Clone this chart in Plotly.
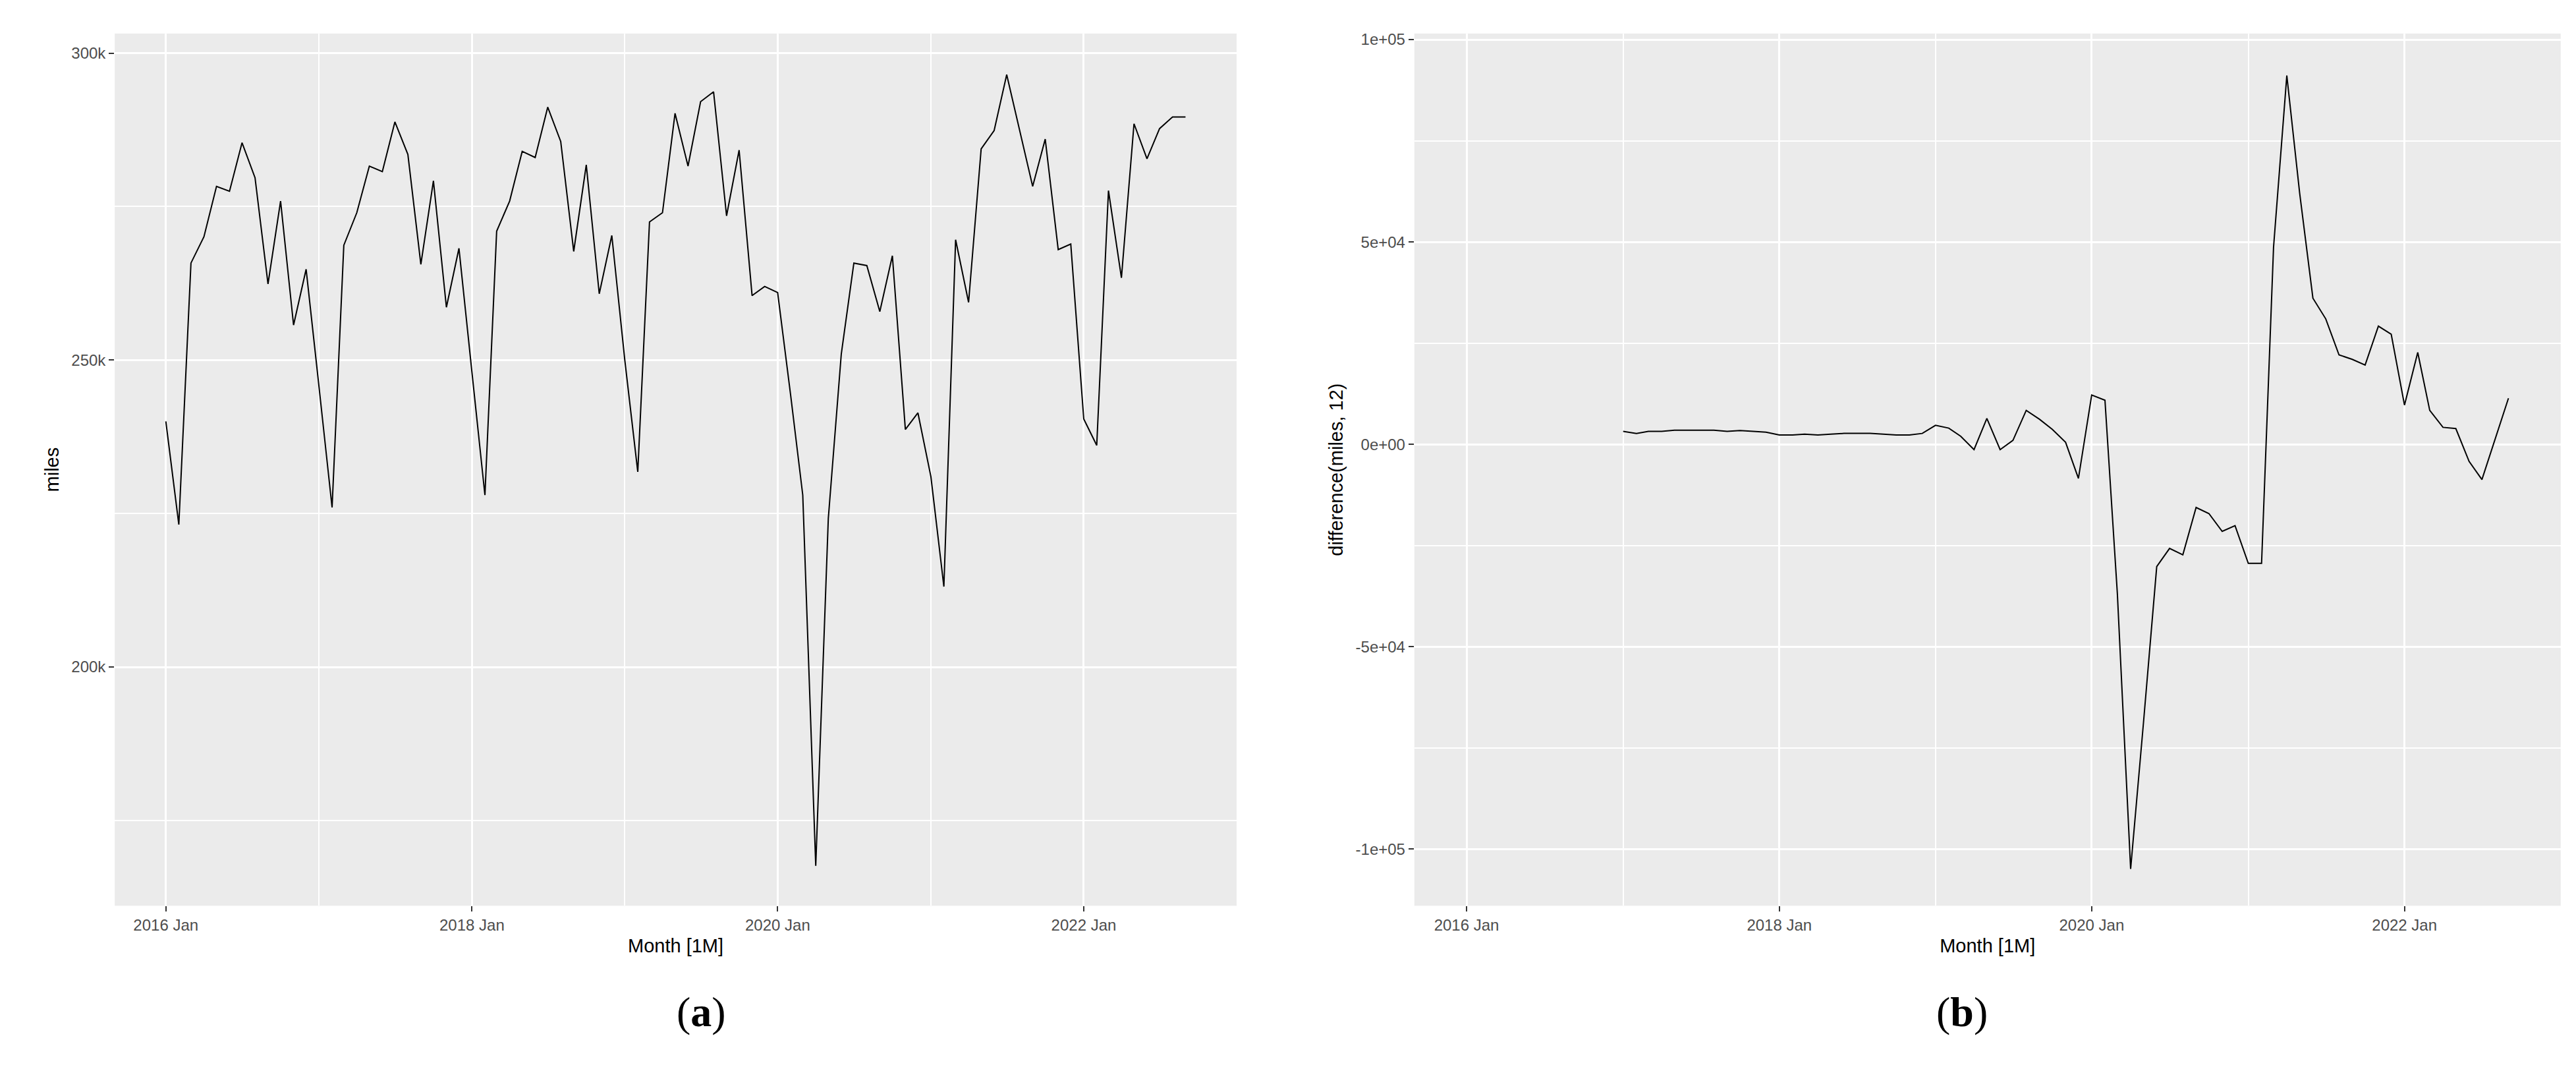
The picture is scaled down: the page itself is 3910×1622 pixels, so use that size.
import pandas as pd
import plotly.graph_objects as go

months = pd.date_range("2016-01-01", "2022-09-01", freq="MS").strftime("%Y-%m-%d").tolist()
miles = [240000, 223200, 265800, 270100, 278300, 277500, 285400, 279700, 262400, 275900, 255700, 264800,
         245500, 226000, 268700, 274000, 281600, 280700, 288800, 283500, 265600, 279200, 258600, 268200,
         248000, 228000, 271000, 275900, 284000, 283000, 291200, 285600, 267700, 281800, 260800, 270300,
         250000, 231800, 272500, 274000, 290200, 281600, 292100, 293700, 273500, 284200, 260500, 262000,
         261000, 244300, 228000, 167600, 224200, 251000, 265800, 265400, 257900, 267000, 238700, 241400,
         231000, 213100, 269600, 259400, 284400, 287400, 296500, 287400, 278300, 286000, 268000, 268900,
         240400, 236100, 277600, 263400, 288500, 282800, 287700, 289600, 289600]
diff_months = months[12:]
diff12 = [3200, 2700, 3200, 3200, 3500, 3500, 3500, 3500, 3200, 3400, 3200, 3000,
          2300, 2300, 2500, 2300, 2500, 2700, 2700, 2700, 2500, 2300, 2300, 2700,
          4700, 4000, 2000, -1300, 6400, -1300, 1000, 8400, 6200, 3700, 500, -8400,
          12200, 10900, -36900, -104900, -68800, -30200, -25700, -27300, -15600, -17100, -21500, -20100,
          -29400, -29400, 48700, 91100, 62100, 36100, 31000, 22100, 21000, 19600, 29200, 27200,
          9700, 22700, 8400, 4200, 3900, -4200, -8700, 1300, 11400]
x_ticks = ["2016-01-01", "2018-01-01", "2020-01-01", "2022-01-01"]
x_ticktext = ["2016 Jan", "2018 Jan", "2020 Jan", "2022 Jan"]
left_ticks = [200000, 250000, 300000]
right_ticks = [-100000, -50000, 0, 50000, 100000]
right_ticktext = ["-1e+05", "-5e+04", "0e+00", "5e+04", "1e+05"]

fig = go.Figure()
fig.add_trace(go.Scatter(x=months, y=miles, mode="lines", line=dict(color="black", width=2),
                         xaxis="x", yaxis="y", showlegend=False))
fig.add_trace(go.Scatter(x=diff_months, y=diff12, mode="lines", line=dict(color="black", width=2),
                         xaxis="x2", yaxis="y2", showlegend=False))

tickfont = dict(family="Liberation Sans Narrow, Arial Narrow, Liberation Sans", size=24, color="#4D4D4D")
titlefont = dict(family="Liberation Sans", size=29, color="black")
common_x = dict(type="date", range=["2015-09-01", "2023-01-01"], tickvals=x_ticks, ticktext=x_ticktext,
                showgrid=True, gridcolor="white", gridwidth=3, ticks="outside", ticklen=8,
                tickcolor="#333333", tickwidth=2, tickfont=tickfont, zeroline=False,
                minor=dict(dtick="M12", tick0="2017-01-01", showgrid=True, gridcolor="white", gridwidth=1.5),
                title=dict(text="Month [1M]", font=titlefont, standoff=8))
common_y = dict(showgrid=True, gridcolor="white", gridwidth=3, ticks="outside", ticklen=8,
                tickcolor="#333333", tickwidth=2, tickfont=tickfont, zeroline=False)

fig.update_layout(
    width=3910, height=1622, margin=dict(l=0, r=0, t=0, b=0),
    paper_bgcolor="white", plot_bgcolor="#EBEBEB",
    xaxis=dict(domain=[0.0425, 0.478], anchor="y", **common_x),
    yaxis=dict(domain=[0.158, 0.976], anchor="x", range=[161100, 303200], tickvals=left_ticks,
               minor=dict(tickvals=[175000, 225000, 275000], showgrid=True, gridcolor="white", gridwidth=1.5),
               title=dict(text="miles", font=titlefont, standoff=10), **common_y),
    xaxis2=dict(domain=[0.547, 0.992], anchor="y2", **common_x),
    yaxis2=dict(domain=[0.158, 0.976], anchor="x2", range=[-114000, 101500], tickvals=right_ticks,
                ticktext=right_ticktext,
                minor=dict(tickvals=[-75000, -25000, 25000, 75000], showgrid=True, gridcolor="white", gridwidth=1.5),
                title=dict(text="difference(miles, 12)", font=titlefont, standoff=10), **common_y),
    annotations=[
        dict(text="(<b>a</b>)", x=0.26, y=0.035, xref="paper", yref="paper", showarrow=False,
             font=dict(family="Liberation Serif", size=64, color="black")),
        dict(text="(<b>b</b>)", x=0.77, y=0.035, xref="paper", yref="paper", showarrow=False,
             font=dict(family="Liberation Serif", size=64, color="black")),
    ],
)
fig.write_html("out.html")
